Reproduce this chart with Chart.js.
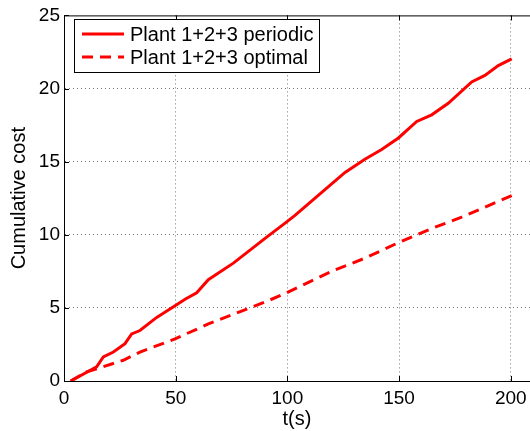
<!DOCTYPE html>
<html>
<head>
<meta charset="utf-8">
<script src="https://cdn.jsdelivr.net/npm/chart.js@4.4.0/dist/chart.umd.min.js"></script>
<style>
    html, body { margin: 0; padding: 0; background: #fff; }
    #wrap { width: 530px; height: 431px; }
</style>
</head>
<body>
<div id="wrap"><canvas id="costChart"></canvas></div>
<script>
// values
const tPeriodic = [3, 14.6, 17.6, 22.1, 27.3, 30.3, 34, 41.5, 49.7, 54.2, 59.4, 64.6, 75.8, 90, 99.7, 103.4, 114.6, 125.8, 134.7, 142.2, 149.7, 157.9, 164.6, 172, 182.5, 188.4, 194.4, 200.4];
const costPeriodic = [0, 0.97, 1.64, 1.98, 2.55, 3.22, 3.45, 4.35, 5.14, 5.59, 6.03, 6.93, 8.06, 9.75, 10.88, 11.33, 12.79, 14.26, 15.16, 15.83, 16.62, 17.75, 18.2, 18.99, 20.45, 20.9, 21.57, 22.03];
const tOptimal = [3, 10.2, 16.1, 26.5, 34, 49.7, 64.6, 81.8, 90, 99.7, 119.8, 134.7, 149.7, 164.6, 178, 200.4];
const costOptimal = [0, 0.63, 0.9, 1.42, 1.98, 2.88, 3.9, 4.91, 5.4, 6.03, 7.5, 8.4, 9.46, 10.43, 11.2, 12.68];
const xTicks = [0, 50, 100, 150, 200];
const yTicks = [0, 5, 10, 15, 20, 25];

const FONT = "'Liberation Sans', Arial, sans-serif";

function toPoints(xs, ys) {
    return xs.map((x, i) => ({ x: x, y: ys[i] }));
}

// box lines (top) + inward tick marks, MATLAB style
const boxPlugin = {
    id: 'box',
    afterDraw(chart) {
        const { ctx, chartArea: a, scales } = chart;
        ctx.save();
        ctx.strokeStyle = '#000';
        ctx.lineWidth = 1;
        ctx.beginPath();
        ctx.moveTo(a.left, a.top + 0.5);
        ctx.lineTo(a.right, a.top + 0.5);
        xTicks.forEach(v => {
            const px = Math.round(scales.x.getPixelForValue(v)) + 0.5;
            ctx.moveTo(px, a.bottom);
            ctx.lineTo(px, a.bottom - 5);
            ctx.moveTo(px, a.top);
            ctx.lineTo(px, a.top + 5);
        });
        yTicks.forEach(v => {
            const py = Math.round(scales.y.getPixelForValue(v)) + 0.5;
            ctx.moveTo(a.left, py);
            ctx.lineTo(a.left + 5, py);
        });
        ctx.stroke();
        ctx.restore();
    }
};

// legend box in the upper left corner
const legendPlugin = {
    id: 'boxLegend',
    afterDraw(chart) {
        const ctx = chart.ctx;
        const x0 = 74, y0 = 19, w = 245, h = 53;
        ctx.save();
        ctx.fillStyle = '#fff';
        ctx.fillRect(x0, y0, w, h);
        ctx.strokeStyle = '#000';
        ctx.lineWidth = 1;
        ctx.strokeRect(x0 + 0.5, y0 + 0.5, w, h);
        chart.data.datasets.forEach((ds, i) => {
            const y = y0 + 15 + i * 23;
            ctx.strokeStyle = ds.borderColor;
            ctx.lineWidth = ds.borderWidth;
            ctx.setLineDash(ds.borderDash || []);
            ctx.beginPath();
            ctx.moveTo(82, y);
            ctx.lineTo(124, y);
            ctx.stroke();
            ctx.setLineDash([]);
            ctx.fillStyle = '#000';
            ctx.font = '20px ' + FONT;
            ctx.textBaseline = 'middle';
            ctx.fillText(ds.label, 130, y + 1);
        });
        ctx.restore();
    }
};

const gridColor = ctx => {
    const v = ctx.tick && ctx.tick.value;
    return (v === 0 || v === 25) ? 'rgba(0,0,0,0)' : 'rgba(0,0,0,0.55)';
};

const chart = new Chart(document.getElementById('costChart'), {
    type: 'line',
    data: {
        datasets: [{
            label: 'Plant 1+2+3 periodic',
            data: toPoints(tPeriodic, costPeriodic),
            borderColor: '#ff0000',
            borderWidth: 3,
            pointRadius: 0,
            tension: 0
        },
        {
            label: 'Plant 1+2+3 optimal',
            data: toPoints(tOptimal, costOptimal),
            borderColor: '#ff0000',
            borderWidth: 3,
            borderDash: [11, 7],
            pointRadius: 0,
            tension: 0
        }]
    },
    options: {
        responsive: true,
        maintainAspectRatio: false,
        animation: false,
        layout: { padding: { top: 12, left: 0, right: 0, bottom: 0 } },
        plugins: {
            legend: { display: false },
            tooltip: { enabled: false }
        },
        scales: {
            x: {
                type: 'linear',
                min: 0,
                max: 208.6,
                afterBuildTicks: s => { s.ticks = xTicks.map(v => ({ value: v })); },
                afterFit: s => { s.height = 50; s.paddingLeft = 0; s.paddingRight = 0; },
                grid: {
                    color: gridColor,
                    drawTicks: false
                },
                border: { display: true, color: '#000', width: 1, dash: [1, 3] },
                ticks: {
                    color: '#000',
                    padding: 6,
                    maxRotation: 0,
                    font: { family: FONT, size: 19 }
                },
                title: {
                    display: true,
                    text: 't(s)',
                    color: '#000',
                    padding: { top: 0, bottom: 0 },
                    font: { family: FONT, size: 20 }
                }
            },
            y: {
                min: 0,
                max: 25,
                afterBuildTicks: s => { s.ticks = yTicks.map(v => ({ value: v })); },
                afterFit: s => { s.width = 64; },
                grid: {
                    color: gridColor,
                    drawTicks: false
                },
                border: { display: true, color: '#000', width: 1, dash: [1, 3] },
                ticks: {
                    color: '#000',
                    padding: 4,
                    font: { family: FONT, size: 19 }
                },
                title: {
                    display: true,
                    text: 'Cumulative cost',
                    color: '#000',
                    padding: { top: 7, bottom: 0 },
                    font: { family: FONT, size: 20 }
                }
            }
        }
    },
    plugins: [boxPlugin, legendPlugin]
});
</script>
</body>
</html>
